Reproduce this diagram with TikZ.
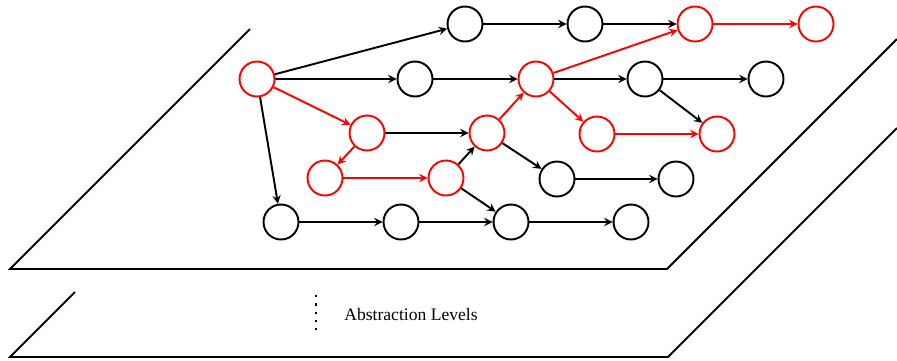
\documentclass[tikz,border=0pt]{standalone}
\usepackage{fontspec}
\setmainfont{Liberation Serif}
\usetikzlibrary{arrows}
\begin{document}
\begin{tikzpicture}[x=0.02cm, y=-0.02cm, line width=1.1pt, >=stealth,
		main/.style = {draw, circle, minimum size=0.7cm, inner sep=0pt},
		hot/.style = {main, red},
		hotedge/.style = {->, red}]

		\useasboundingbox (0,0) rectangle (897,360);

		% the two planes
		\draw (250,29) -- (10,269) -- (667,269) -- (897,39);
		\draw (75,292) -- (10,357) -- (668,357) -- (897,128);
		\draw[line width=1.3pt, dash pattern=on 1.3pt off 3.4pt] (316,295) -- (316,336);
		\node[] (lvl) at (411,314) {Abstraction Levels};

		\node[main] (t1) at (465,24) {};
		\node[main] (t2) at (585,24) {};
		\node[hot] (t3) at (695,24) {};
		\node[hot] (t4) at (816,24) {};

		\node[hot] (s) at (257,79) {};
		\node[main] (m1) at (415,79) {};
		\node[hot] (m2) at (536,79) {};
		\node[main] (m3) at (645,79) {};
		\node[main] (m4) at (766,79) {};

		\node[hot] (c1) at (367,133) {};
		\node[hot] (c2) at (487,133) {};
		\node[hot] (c3) at (597,134) {};
		\node[hot] (c4) at (717,134) {};

		\node[hot] (d1) at (325,178) {};
		\node[hot] (d2) at (446,178) {};
		\node[main] (d3) at (557,179) {};
		\node[main] (d4) at (676,179) {};

		\node[main] (b1) at (281,222) {};
		\node[main] (b2) at (401,222) {};
		\node[main] (b3) at (511,222) {};
		\node[main] (b4) at (631,222) {};

		\draw[->] (s) -- (t1);
		\draw[->] (s) -- (m1);
		\draw[->] (s) -- (b1);
		\draw[->] (t1) -- (t2);
		\draw[->] (t2) -- (t3);
		\draw[->] (m1) -- (m2);
		\draw[->] (m2) -- (m3);
		\draw[->] (m3) -- (m4);
		\draw[->] (m3) -- (c4);
		\draw[->] (c1) -- (c2);
		\draw[->] (c2) -- (d3);
		\draw[->] (d2) -- (c2);
		\draw[->] (d2) -- (b3);
		\draw[->] (d3) -- (d4);
		\draw[->] (b1) -- (b2);
		\draw[->] (b2) -- (b3);
		\draw[->] (b3) -- (b4);

		\draw[hotedge] (s) -- (c1);
		\draw[hotedge] (c1) -- (d1);
		\draw[hotedge] (d1) -- (d2);
		\draw[hotedge] (c2) -- (m2);
		\draw[hotedge] (m2) -- (t3);
		\draw[hotedge] (m2) -- (c3);
		\draw[hotedge] (c3) -- (c4);
		\draw[hotedge] (t3) -- (t4);
	\end{tikzpicture}
\end{document}
